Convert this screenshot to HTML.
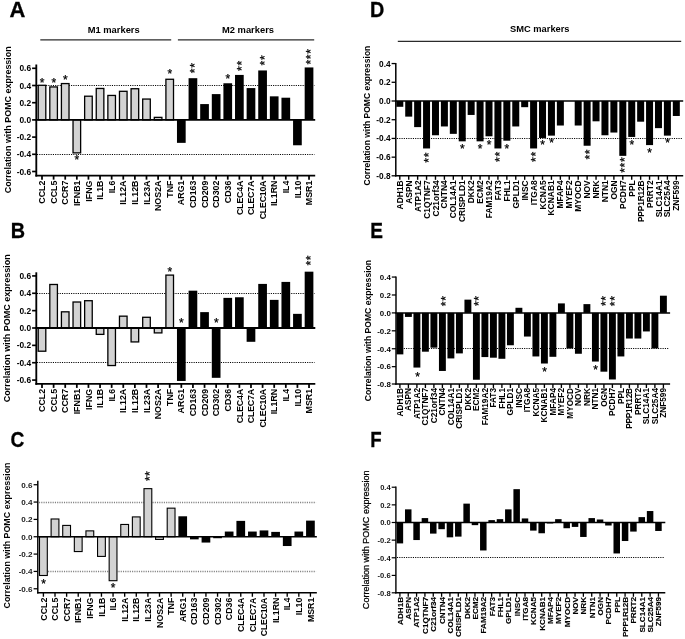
<!DOCTYPE html>
<html><head><meta charset="utf-8"><title>Figure</title>
<style>
html,body{margin:0;padding:0;background:#fff;}
body{width:685px;height:639px;overflow:hidden;}
svg{display:block;will-change:transform;}
text{font-family:"Liberation Sans",sans-serif;fill:#000;}
</style></head><body>
<svg width="685" height="639" viewBox="0 0 685 639">

<line x1="37.00" y1="85.50" x2="314.40" y2="85.50" stroke="#000" stroke-width="1.1" stroke-dasharray="1.1 1.17" stroke-opacity="1"/>
<line x1="37.00" y1="154.50" x2="314.40" y2="154.50" stroke="#000" stroke-width="1.1" stroke-dasharray="1.1 1.17" stroke-opacity="1"/>
<rect x="38.20" y="85.29" width="7.60" height="34.61" fill="#d3d3d3" stroke="#000" stroke-width="1.3"/>
<rect x="49.81" y="86.93" width="7.60" height="32.97" fill="#d3d3d3" stroke="#000" stroke-width="1.3"/>
<rect x="61.42" y="83.57" width="7.60" height="36.33" fill="#d3d3d3" stroke="#000" stroke-width="1.3"/>
<rect x="73.03" y="119.90" width="7.60" height="32.97" fill="#d3d3d3" stroke="#000" stroke-width="1.3"/>
<rect x="84.64" y="96.21" width="7.60" height="23.69" fill="#d3d3d3" stroke="#000" stroke-width="1.3"/>
<rect x="96.25" y="88.47" width="7.60" height="31.43" fill="#d3d3d3" stroke="#000" stroke-width="1.3"/>
<rect x="107.86" y="95.44" width="7.60" height="24.46" fill="#d3d3d3" stroke="#000" stroke-width="1.3"/>
<rect x="119.47" y="91.31" width="7.60" height="28.59" fill="#d3d3d3" stroke="#000" stroke-width="1.3"/>
<rect x="131.08" y="88.73" width="7.60" height="31.17" fill="#d3d3d3" stroke="#000" stroke-width="1.3"/>
<rect x="142.69" y="99.05" width="7.60" height="20.85" fill="#d3d3d3" stroke="#000" stroke-width="1.3"/>
<rect x="154.30" y="117.37" width="7.60" height="2.53" fill="#d3d3d3" stroke="#000" stroke-width="1.3"/>
<rect x="165.91" y="79.27" width="7.60" height="40.63" fill="#d3d3d3" stroke="#000" stroke-width="1.3"/>
<rect x="176.97" y="119.90" width="8.70" height="22.96" fill="#000"/>
<rect x="188.58" y="78.19" width="8.70" height="41.71" fill="#000"/>
<rect x="200.19" y="104.08" width="8.70" height="15.82" fill="#000"/>
<rect x="211.80" y="94.10" width="8.70" height="25.80" fill="#000"/>
<rect x="223.41" y="83.26" width="8.70" height="36.64" fill="#000"/>
<rect x="235.02" y="74.92" width="8.70" height="44.98" fill="#000"/>
<rect x="246.63" y="88.08" width="8.70" height="31.82" fill="#000"/>
<rect x="258.24" y="70.45" width="8.70" height="49.45" fill="#000"/>
<rect x="269.85" y="96.34" width="8.70" height="23.56" fill="#000"/>
<rect x="281.46" y="97.71" width="8.70" height="22.19" fill="#000"/>
<rect x="293.07" y="119.90" width="8.70" height="25.37" fill="#000"/>
<rect x="304.68" y="67.44" width="8.70" height="52.46" fill="#000"/>
<line x1="36.30" y1="64.50" x2="36.30" y2="176.58" stroke="#000" stroke-width="1.85" />
<line x1="35.38" y1="119.90" x2="315.20" y2="119.90" stroke="#000" stroke-width="1.85" />
<line x1="35.38" y1="175.65" x2="315.20" y2="175.65" stroke="#000" stroke-width="1.85" />
<line x1="32.10" y1="68.30" x2="36.30" y2="68.30" stroke="#000" stroke-width="1.6500000000000001" />
<text x="31.10" y="71.31" font-size="8.4" font-weight="bold" text-anchor="end" >0.6</text>
<line x1="32.10" y1="85.50" x2="36.30" y2="85.50" stroke="#000" stroke-width="1.6500000000000001" />
<text x="31.10" y="88.51" font-size="8.4" font-weight="bold" text-anchor="end" >0.4</text>
<line x1="32.10" y1="102.70" x2="36.30" y2="102.70" stroke="#000" stroke-width="1.6500000000000001" />
<text x="31.10" y="105.71" font-size="8.4" font-weight="bold" text-anchor="end" >0.2</text>
<line x1="32.10" y1="119.90" x2="36.30" y2="119.90" stroke="#000" stroke-width="1.6500000000000001" />
<text x="31.10" y="122.91" font-size="8.4" font-weight="bold" text-anchor="end" >0.0</text>
<line x1="32.10" y1="137.10" x2="36.30" y2="137.10" stroke="#000" stroke-width="1.6500000000000001" />
<text x="31.10" y="140.11" font-size="8.4" font-weight="bold" text-anchor="end" >-0.2</text>
<line x1="32.10" y1="154.30" x2="36.30" y2="154.30" stroke="#000" stroke-width="1.6500000000000001" />
<text x="31.10" y="157.31" font-size="8.4" font-weight="bold" text-anchor="end" >-0.4</text>
<line x1="32.10" y1="171.50" x2="36.30" y2="171.50" stroke="#000" stroke-width="1.6500000000000001" />
<text x="31.10" y="174.51" font-size="8.4" font-weight="bold" text-anchor="end" >-0.6</text>
<line x1="42.00" y1="175.65" x2="42.00" y2="179.65" stroke="#000" stroke-width="1.75" />
<text x="45.17" y="180.55" font-size="8.85" font-weight="bold" text-anchor="end" transform="rotate(-90 45.17 180.55)" >CCL2</text>
<line x1="53.61" y1="175.65" x2="53.61" y2="179.65" stroke="#000" stroke-width="1.75" />
<text x="56.78" y="180.55" font-size="8.85" font-weight="bold" text-anchor="end" transform="rotate(-90 56.78 180.55)" >CCL5</text>
<line x1="65.22" y1="175.65" x2="65.22" y2="179.65" stroke="#000" stroke-width="1.75" />
<text x="68.39" y="180.55" font-size="8.85" font-weight="bold" text-anchor="end" transform="rotate(-90 68.39 180.55)" >CCR7</text>
<line x1="76.83" y1="175.65" x2="76.83" y2="179.65" stroke="#000" stroke-width="1.75" />
<text x="80.00" y="180.55" font-size="8.85" font-weight="bold" text-anchor="end" transform="rotate(-90 80.00 180.55)" >IFNB1</text>
<line x1="88.44" y1="175.65" x2="88.44" y2="179.65" stroke="#000" stroke-width="1.75" />
<text x="91.61" y="180.55" font-size="8.85" font-weight="bold" text-anchor="end" transform="rotate(-90 91.61 180.55)" >IFNG</text>
<line x1="100.05" y1="175.65" x2="100.05" y2="179.65" stroke="#000" stroke-width="1.75" />
<text x="103.22" y="180.55" font-size="8.85" font-weight="bold" text-anchor="end" transform="rotate(-90 103.22 180.55)" >IL1B</text>
<line x1="111.66" y1="175.65" x2="111.66" y2="179.65" stroke="#000" stroke-width="1.75" />
<text x="114.83" y="180.55" font-size="8.85" font-weight="bold" text-anchor="end" transform="rotate(-90 114.83 180.55)" >IL6</text>
<line x1="123.27" y1="175.65" x2="123.27" y2="179.65" stroke="#000" stroke-width="1.75" />
<text x="126.44" y="180.55" font-size="8.85" font-weight="bold" text-anchor="end" transform="rotate(-90 126.44 180.55)" >IL12A</text>
<line x1="134.88" y1="175.65" x2="134.88" y2="179.65" stroke="#000" stroke-width="1.75" />
<text x="138.05" y="180.55" font-size="8.85" font-weight="bold" text-anchor="end" transform="rotate(-90 138.05 180.55)" >IL12B</text>
<line x1="146.49" y1="175.65" x2="146.49" y2="179.65" stroke="#000" stroke-width="1.75" />
<text x="149.66" y="180.55" font-size="8.85" font-weight="bold" text-anchor="end" transform="rotate(-90 149.66 180.55)" >IL23A</text>
<line x1="158.10" y1="175.65" x2="158.10" y2="179.65" stroke="#000" stroke-width="1.75" />
<text x="161.27" y="180.55" font-size="8.85" font-weight="bold" text-anchor="end" transform="rotate(-90 161.27 180.55)" >NOS2A</text>
<line x1="169.71" y1="175.65" x2="169.71" y2="179.65" stroke="#000" stroke-width="1.75" />
<text x="172.88" y="180.55" font-size="8.85" font-weight="bold" text-anchor="end" transform="rotate(-90 172.88 180.55)" >TNF</text>
<line x1="181.32" y1="175.65" x2="181.32" y2="179.65" stroke="#000" stroke-width="1.75" />
<text x="184.49" y="180.55" font-size="8.85" font-weight="bold" text-anchor="end" transform="rotate(-90 184.49 180.55)" >ARG1</text>
<line x1="192.93" y1="175.65" x2="192.93" y2="179.65" stroke="#000" stroke-width="1.75" />
<text x="196.10" y="180.55" font-size="8.85" font-weight="bold" text-anchor="end" transform="rotate(-90 196.10 180.55)" >CD163</text>
<line x1="204.54" y1="175.65" x2="204.54" y2="179.65" stroke="#000" stroke-width="1.75" />
<text x="207.71" y="180.55" font-size="8.85" font-weight="bold" text-anchor="end" transform="rotate(-90 207.71 180.55)" >CD209</text>
<line x1="216.15" y1="175.65" x2="216.15" y2="179.65" stroke="#000" stroke-width="1.75" />
<text x="219.32" y="180.55" font-size="8.85" font-weight="bold" text-anchor="end" transform="rotate(-90 219.32 180.55)" >CD302</text>
<line x1="227.76" y1="175.65" x2="227.76" y2="179.65" stroke="#000" stroke-width="1.75" />
<text x="230.93" y="180.55" font-size="8.85" font-weight="bold" text-anchor="end" transform="rotate(-90 230.93 180.55)" >CD36</text>
<line x1="239.37" y1="175.65" x2="239.37" y2="179.65" stroke="#000" stroke-width="1.75" />
<text x="242.54" y="180.73" font-size="8.85" font-weight="bold" text-anchor="end" transform="rotate(-90 242.54 180.73)" letter-spacing="-0.18" >CLEC4A</text>
<line x1="250.98" y1="175.65" x2="250.98" y2="179.65" stroke="#000" stroke-width="1.75" />
<text x="254.15" y="180.73" font-size="8.85" font-weight="bold" text-anchor="end" transform="rotate(-90 254.15 180.73)" letter-spacing="-0.18" >CLEC7A</text>
<line x1="262.59" y1="175.65" x2="262.59" y2="179.65" stroke="#000" stroke-width="1.75" />
<text x="265.76" y="180.82" font-size="8.85" font-weight="bold" text-anchor="end" transform="rotate(-90 265.76 180.82)" letter-spacing="-0.27" >CLEC10A</text>
<line x1="274.20" y1="175.65" x2="274.20" y2="179.65" stroke="#000" stroke-width="1.75" />
<text x="277.37" y="180.55" font-size="8.85" font-weight="bold" text-anchor="end" transform="rotate(-90 277.37 180.55)" >IL1RN</text>
<line x1="285.81" y1="175.65" x2="285.81" y2="179.65" stroke="#000" stroke-width="1.75" />
<text x="288.98" y="180.55" font-size="8.85" font-weight="bold" text-anchor="end" transform="rotate(-90 288.98 180.55)" >IL4</text>
<line x1="297.42" y1="175.65" x2="297.42" y2="179.65" stroke="#000" stroke-width="1.75" />
<text x="300.59" y="180.55" font-size="8.85" font-weight="bold" text-anchor="end" transform="rotate(-90 300.59 180.55)" >IL10</text>
<line x1="309.03" y1="175.65" x2="309.03" y2="179.65" stroke="#000" stroke-width="1.75" />
<text x="312.20" y="180.55" font-size="8.85" font-weight="bold" text-anchor="end" transform="rotate(-90 312.20 180.55)" >MSR1</text>
<text x="10.50" y="119.75" font-size="8.95" font-weight="bold" text-anchor="middle" transform="rotate(-90 10.50 119.75)" >Correlation with POMC expression</text>
<text transform="translate(9.45 16.65) scale(1.035 1)" x="0" y="0" font-size="21.2" font-weight="bold" stroke="#000" stroke-width="0.3">A</text>
<text x="39.78" y="86.68" font-size="12" font-weight="normal" text-anchor="start" stroke="#000" stroke-width="0.25">*</text>
<text x="51.39" y="86.68" font-size="12" font-weight="normal" text-anchor="start" stroke="#000" stroke-width="0.25">*</text>
<text x="63.00" y="83.78" font-size="12" font-weight="normal" text-anchor="start" stroke="#000" stroke-width="0.25">*</text>
<text x="74.61" y="163.68" font-size="12" font-weight="normal" text-anchor="start" stroke="#000" stroke-width="0.25">*</text>
<text x="167.49" y="77.88" font-size="12" font-weight="normal" text-anchor="start" stroke="#000" stroke-width="0.25">*</text>
<text x="199.36" y="67.82" font-size="12" font-weight="normal" text-anchor="start" transform="rotate(-90 199.36 67.82)" stroke="#000" stroke-width="0.25">*</text>
<text x="199.36" y="73.22" font-size="12" font-weight="normal" text-anchor="start" transform="rotate(-90 199.36 73.22)" stroke="#000" stroke-width="0.25">*</text>
<text x="225.54" y="82.58" font-size="12" font-weight="normal" text-anchor="start" stroke="#000" stroke-width="0.25">*</text>
<text x="245.80" y="65.52" font-size="12" font-weight="normal" text-anchor="start" transform="rotate(-90 245.80 65.52)" stroke="#000" stroke-width="0.25">*</text>
<text x="245.80" y="70.92" font-size="12" font-weight="normal" text-anchor="start" transform="rotate(-90 245.80 70.92)" stroke="#000" stroke-width="0.25">*</text>
<text x="269.02" y="60.12" font-size="12" font-weight="normal" text-anchor="start" transform="rotate(-90 269.02 60.12)" stroke="#000" stroke-width="0.25">*</text>
<text x="269.02" y="65.52" font-size="12" font-weight="normal" text-anchor="start" transform="rotate(-90 269.02 65.52)" stroke="#000" stroke-width="0.25">*</text>
<text x="315.46" y="53.72" font-size="12" font-weight="normal" text-anchor="start" transform="rotate(-90 315.46 53.72)" stroke="#000" stroke-width="0.25">*</text>
<text x="315.46" y="59.12" font-size="12" font-weight="normal" text-anchor="start" transform="rotate(-90 315.46 59.12)" stroke="#000" stroke-width="0.25">*</text>
<text x="315.46" y="64.52" font-size="12" font-weight="normal" text-anchor="start" transform="rotate(-90 315.46 64.52)" stroke="#000" stroke-width="0.25">*</text>
<line x1="37.00" y1="293.50" x2="314.50" y2="293.50" stroke="#000" stroke-width="1.1" stroke-dasharray="1.1 1.17" stroke-opacity="1"/>
<line x1="37.00" y1="362.50" x2="314.50" y2="362.50" stroke="#000" stroke-width="1.1" stroke-dasharray="1.1 1.17" stroke-opacity="1"/>
<rect x="38.20" y="328.00" width="7.60" height="23.21" fill="#d3d3d3" stroke="#000" stroke-width="1.3"/>
<rect x="49.81" y="284.48" width="7.60" height="43.52" fill="#d3d3d3" stroke="#000" stroke-width="1.3"/>
<rect x="61.42" y="311.82" width="7.60" height="16.18" fill="#d3d3d3" stroke="#000" stroke-width="1.3"/>
<rect x="73.03" y="302.01" width="7.60" height="25.99" fill="#d3d3d3" stroke="#000" stroke-width="1.3"/>
<rect x="84.64" y="300.71" width="7.60" height="27.29" fill="#d3d3d3" stroke="#000" stroke-width="1.3"/>
<rect x="96.25" y="328.00" width="7.60" height="6.37" fill="#d3d3d3" stroke="#000" stroke-width="1.3"/>
<rect x="107.86" y="328.00" width="7.60" height="37.53" fill="#d3d3d3" stroke="#000" stroke-width="1.3"/>
<rect x="119.47" y="316.16" width="7.60" height="11.84" fill="#d3d3d3" stroke="#000" stroke-width="1.3"/>
<rect x="131.08" y="328.00" width="7.60" height="13.92" fill="#d3d3d3" stroke="#000" stroke-width="1.3"/>
<rect x="142.69" y="317.29" width="7.60" height="10.71" fill="#d3d3d3" stroke="#000" stroke-width="1.3"/>
<rect x="154.30" y="328.00" width="7.60" height="4.90" fill="#d3d3d3" stroke="#000" stroke-width="1.3"/>
<rect x="165.91" y="275.10" width="7.60" height="52.90" fill="#d3d3d3" stroke="#000" stroke-width="1.3"/>
<rect x="176.97" y="328.00" width="8.70" height="52.95" fill="#000"/>
<rect x="188.58" y="290.68" width="8.70" height="37.32" fill="#000"/>
<rect x="200.19" y="312.12" width="8.70" height="15.88" fill="#000"/>
<rect x="211.80" y="328.00" width="8.70" height="49.82" fill="#000"/>
<rect x="223.41" y="297.88" width="8.70" height="30.12" fill="#000"/>
<rect x="235.02" y="297.27" width="8.70" height="30.73" fill="#000"/>
<rect x="246.63" y="328.00" width="8.70" height="13.80" fill="#000"/>
<rect x="258.24" y="283.91" width="8.70" height="44.09" fill="#000"/>
<rect x="269.85" y="299.88" width="8.70" height="28.12" fill="#000"/>
<rect x="281.46" y="281.91" width="8.70" height="46.09" fill="#000"/>
<rect x="293.07" y="313.85" width="8.70" height="14.15" fill="#000"/>
<rect x="304.68" y="271.67" width="8.70" height="56.33" fill="#000"/>
<line x1="36.30" y1="272.30" x2="36.30" y2="384.82" stroke="#000" stroke-width="1.85" />
<line x1="35.38" y1="328.00" x2="315.30" y2="328.00" stroke="#000" stroke-width="1.85" />
<line x1="35.38" y1="383.90" x2="315.30" y2="383.90" stroke="#000" stroke-width="1.85" />
<line x1="32.10" y1="275.92" x2="36.30" y2="275.92" stroke="#000" stroke-width="1.6500000000000001" />
<text x="31.10" y="278.93" font-size="8.4" font-weight="bold" text-anchor="end" >0.6</text>
<line x1="32.10" y1="293.28" x2="36.30" y2="293.28" stroke="#000" stroke-width="1.6500000000000001" />
<text x="31.10" y="296.29" font-size="8.4" font-weight="bold" text-anchor="end" >0.4</text>
<line x1="32.10" y1="310.64" x2="36.30" y2="310.64" stroke="#000" stroke-width="1.6500000000000001" />
<text x="31.10" y="313.65" font-size="8.4" font-weight="bold" text-anchor="end" >0.2</text>
<line x1="32.10" y1="328.00" x2="36.30" y2="328.00" stroke="#000" stroke-width="1.6500000000000001" />
<text x="31.10" y="331.01" font-size="8.4" font-weight="bold" text-anchor="end" >0.0</text>
<line x1="32.10" y1="345.36" x2="36.30" y2="345.36" stroke="#000" stroke-width="1.6500000000000001" />
<text x="31.10" y="348.37" font-size="8.4" font-weight="bold" text-anchor="end" >-0.2</text>
<line x1="32.10" y1="362.72" x2="36.30" y2="362.72" stroke="#000" stroke-width="1.6500000000000001" />
<text x="31.10" y="365.73" font-size="8.4" font-weight="bold" text-anchor="end" >-0.4</text>
<line x1="32.10" y1="380.08" x2="36.30" y2="380.08" stroke="#000" stroke-width="1.6500000000000001" />
<text x="31.10" y="383.09" font-size="8.4" font-weight="bold" text-anchor="end" >-0.6</text>
<line x1="42.00" y1="383.90" x2="42.00" y2="387.90" stroke="#000" stroke-width="1.75" />
<text x="45.17" y="388.80" font-size="8.85" font-weight="bold" text-anchor="end" transform="rotate(-90 45.17 388.80)" >CCL2</text>
<line x1="53.61" y1="383.90" x2="53.61" y2="387.90" stroke="#000" stroke-width="1.75" />
<text x="56.78" y="388.80" font-size="8.85" font-weight="bold" text-anchor="end" transform="rotate(-90 56.78 388.80)" >CCL5</text>
<line x1="65.22" y1="383.90" x2="65.22" y2="387.90" stroke="#000" stroke-width="1.75" />
<text x="68.39" y="388.80" font-size="8.85" font-weight="bold" text-anchor="end" transform="rotate(-90 68.39 388.80)" >CCR7</text>
<line x1="76.83" y1="383.90" x2="76.83" y2="387.90" stroke="#000" stroke-width="1.75" />
<text x="80.00" y="388.80" font-size="8.85" font-weight="bold" text-anchor="end" transform="rotate(-90 80.00 388.80)" >IFNB1</text>
<line x1="88.44" y1="383.90" x2="88.44" y2="387.90" stroke="#000" stroke-width="1.75" />
<text x="91.61" y="388.80" font-size="8.85" font-weight="bold" text-anchor="end" transform="rotate(-90 91.61 388.80)" >IFNG</text>
<line x1="100.05" y1="383.90" x2="100.05" y2="387.90" stroke="#000" stroke-width="1.75" />
<text x="103.22" y="388.80" font-size="8.85" font-weight="bold" text-anchor="end" transform="rotate(-90 103.22 388.80)" >IL1B</text>
<line x1="111.66" y1="383.90" x2="111.66" y2="387.90" stroke="#000" stroke-width="1.75" />
<text x="114.83" y="388.80" font-size="8.85" font-weight="bold" text-anchor="end" transform="rotate(-90 114.83 388.80)" >IL6</text>
<line x1="123.27" y1="383.90" x2="123.27" y2="387.90" stroke="#000" stroke-width="1.75" />
<text x="126.44" y="388.80" font-size="8.85" font-weight="bold" text-anchor="end" transform="rotate(-90 126.44 388.80)" >IL12A</text>
<line x1="134.88" y1="383.90" x2="134.88" y2="387.90" stroke="#000" stroke-width="1.75" />
<text x="138.05" y="388.80" font-size="8.85" font-weight="bold" text-anchor="end" transform="rotate(-90 138.05 388.80)" >IL12B</text>
<line x1="146.49" y1="383.90" x2="146.49" y2="387.90" stroke="#000" stroke-width="1.75" />
<text x="149.66" y="388.80" font-size="8.85" font-weight="bold" text-anchor="end" transform="rotate(-90 149.66 388.80)" >IL23A</text>
<line x1="158.10" y1="383.90" x2="158.10" y2="387.90" stroke="#000" stroke-width="1.75" />
<text x="161.27" y="388.80" font-size="8.85" font-weight="bold" text-anchor="end" transform="rotate(-90 161.27 388.80)" >NOS2A</text>
<line x1="169.71" y1="383.90" x2="169.71" y2="387.90" stroke="#000" stroke-width="1.75" />
<text x="172.88" y="388.80" font-size="8.85" font-weight="bold" text-anchor="end" transform="rotate(-90 172.88 388.80)" >TNF</text>
<line x1="181.32" y1="383.90" x2="181.32" y2="387.90" stroke="#000" stroke-width="1.75" />
<text x="184.49" y="388.80" font-size="8.85" font-weight="bold" text-anchor="end" transform="rotate(-90 184.49 388.80)" >ARG1</text>
<line x1="192.93" y1="383.90" x2="192.93" y2="387.90" stroke="#000" stroke-width="1.75" />
<text x="196.10" y="388.80" font-size="8.85" font-weight="bold" text-anchor="end" transform="rotate(-90 196.10 388.80)" >CD163</text>
<line x1="204.54" y1="383.90" x2="204.54" y2="387.90" stroke="#000" stroke-width="1.75" />
<text x="207.71" y="388.80" font-size="8.85" font-weight="bold" text-anchor="end" transform="rotate(-90 207.71 388.80)" >CD209</text>
<line x1="216.15" y1="383.90" x2="216.15" y2="387.90" stroke="#000" stroke-width="1.75" />
<text x="219.32" y="388.80" font-size="8.85" font-weight="bold" text-anchor="end" transform="rotate(-90 219.32 388.80)" >CD302</text>
<line x1="227.76" y1="383.90" x2="227.76" y2="387.90" stroke="#000" stroke-width="1.75" />
<text x="230.93" y="388.80" font-size="8.85" font-weight="bold" text-anchor="end" transform="rotate(-90 230.93 388.80)" >CD36</text>
<line x1="239.37" y1="383.90" x2="239.37" y2="387.90" stroke="#000" stroke-width="1.75" />
<text x="242.54" y="388.98" font-size="8.85" font-weight="bold" text-anchor="end" transform="rotate(-90 242.54 388.98)" letter-spacing="-0.18" >CLEC4A</text>
<line x1="250.98" y1="383.90" x2="250.98" y2="387.90" stroke="#000" stroke-width="1.75" />
<text x="254.15" y="388.98" font-size="8.85" font-weight="bold" text-anchor="end" transform="rotate(-90 254.15 388.98)" letter-spacing="-0.18" >CLEC7A</text>
<line x1="262.59" y1="383.90" x2="262.59" y2="387.90" stroke="#000" stroke-width="1.75" />
<text x="265.76" y="389.07" font-size="8.85" font-weight="bold" text-anchor="end" transform="rotate(-90 265.76 389.07)" letter-spacing="-0.27" >CLEC10A</text>
<line x1="274.20" y1="383.90" x2="274.20" y2="387.90" stroke="#000" stroke-width="1.75" />
<text x="277.37" y="388.80" font-size="8.85" font-weight="bold" text-anchor="end" transform="rotate(-90 277.37 388.80)" >IL1RN</text>
<line x1="285.81" y1="383.90" x2="285.81" y2="387.90" stroke="#000" stroke-width="1.75" />
<text x="288.98" y="388.80" font-size="8.85" font-weight="bold" text-anchor="end" transform="rotate(-90 288.98 388.80)" >IL4</text>
<line x1="297.42" y1="383.90" x2="297.42" y2="387.90" stroke="#000" stroke-width="1.75" />
<text x="300.59" y="388.80" font-size="8.85" font-weight="bold" text-anchor="end" transform="rotate(-90 300.59 388.80)" >IL10</text>
<line x1="309.03" y1="383.90" x2="309.03" y2="387.90" stroke="#000" stroke-width="1.75" />
<text x="312.20" y="388.80" font-size="8.85" font-weight="bold" text-anchor="end" transform="rotate(-90 312.20 388.80)" >MSR1</text>
<text x="9.80" y="328.25" font-size="9.0" font-weight="bold" text-anchor="middle" transform="rotate(-90 9.80 328.25)" >Correlation with POMC expression</text>
<text transform="translate(10.65 238.30) scale(0.93 1)" x="0" y="0" font-size="21.3" font-weight="bold" stroke="#000" stroke-width="0.3">B</text>
<text x="167.49" y="275.88" font-size="12" font-weight="normal" text-anchor="start" stroke="#000" stroke-width="0.25">*</text>
<text x="179.10" y="326.98" font-size="12" font-weight="normal" text-anchor="start" stroke="#000" stroke-width="0.25">*</text>
<text x="213.93" y="326.98" font-size="12" font-weight="normal" text-anchor="start" stroke="#000" stroke-width="0.25">*</text>
<text x="315.46" y="260.12" font-size="12" font-weight="normal" text-anchor="start" transform="rotate(-90 315.46 260.12)" stroke="#000" stroke-width="0.25">*</text>
<text x="315.46" y="265.52" font-size="12" font-weight="normal" text-anchor="start" transform="rotate(-90 315.46 265.52)" stroke="#000" stroke-width="0.25">*</text>
<line x1="39.00" y1="502.50" x2="316.05" y2="502.50" stroke="#000" stroke-width="1.3" stroke-dasharray="1.1 1.17" stroke-opacity="0.5"/>
<line x1="39.00" y1="571.50" x2="316.05" y2="571.50" stroke="#000" stroke-width="1.3" stroke-dasharray="1.1 1.17" stroke-opacity="0.5"/>
<rect x="39.50" y="536.75" width="7.80" height="38.74" fill="#d3d3d3" stroke="#000" stroke-width="1.1"/>
<rect x="51.11" y="518.99" width="7.80" height="17.76" fill="#d3d3d3" stroke="#000" stroke-width="1.1"/>
<rect x="62.72" y="525.41" width="7.80" height="11.34" fill="#d3d3d3" stroke="#000" stroke-width="1.1"/>
<rect x="74.33" y="536.75" width="7.80" height="14.81" fill="#d3d3d3" stroke="#000" stroke-width="1.1"/>
<rect x="85.94" y="530.87" width="7.80" height="5.88" fill="#d3d3d3" stroke="#000" stroke-width="1.1"/>
<rect x="97.55" y="536.75" width="7.80" height="19.66" fill="#d3d3d3" stroke="#000" stroke-width="1.1"/>
<rect x="109.16" y="536.75" width="7.80" height="43.94" fill="#d3d3d3" stroke="#000" stroke-width="1.1"/>
<rect x="120.77" y="524.46" width="7.80" height="12.29" fill="#d3d3d3" stroke="#000" stroke-width="1.1"/>
<rect x="132.38" y="516.91" width="7.80" height="19.84" fill="#d3d3d3" stroke="#000" stroke-width="1.1"/>
<rect x="143.99" y="488.65" width="7.80" height="48.10" fill="#d3d3d3" stroke="#000" stroke-width="1.1"/>
<rect x="155.60" y="536.75" width="7.80" height="2.67" fill="#d3d3d3" stroke="#000" stroke-width="1.1"/>
<rect x="167.21" y="508.16" width="7.80" height="28.59" fill="#d3d3d3" stroke="#000" stroke-width="1.1"/>
<rect x="178.37" y="516.29" width="8.70" height="20.46" fill="#000"/>
<rect x="189.98" y="536.75" width="8.70" height="2.60" fill="#000"/>
<rect x="201.59" y="536.75" width="8.70" height="5.81" fill="#000"/>
<rect x="213.20" y="536.75" width="8.70" height="1.47" fill="#000"/>
<rect x="224.81" y="531.55" width="8.70" height="5.20" fill="#000"/>
<rect x="236.42" y="520.88" width="8.70" height="15.87" fill="#000"/>
<rect x="248.03" y="531.55" width="8.70" height="5.20" fill="#000"/>
<rect x="259.64" y="530.42" width="8.70" height="6.33" fill="#000"/>
<rect x="271.25" y="531.89" width="8.70" height="4.86" fill="#000"/>
<rect x="282.86" y="536.75" width="8.70" height="9.28" fill="#000"/>
<rect x="294.47" y="531.55" width="8.70" height="5.20" fill="#000"/>
<rect x="306.08" y="520.62" width="8.70" height="16.13" fill="#000"/>
<line x1="37.80" y1="480.70" x2="37.80" y2="593.48" stroke="#000" stroke-width="1.45" />
<line x1="37.07" y1="536.75" x2="316.85" y2="536.75" stroke="#000" stroke-width="1.45" />
<line x1="37.07" y1="592.75" x2="316.85" y2="592.75" stroke="#000" stroke-width="1.45" />
<line x1="33.60" y1="484.73" x2="37.80" y2="484.73" stroke="#000" stroke-width="1.25" />
<text x="32.60" y="487.63" font-size="8.1" font-weight="bold" text-anchor="end" fill-opacity="0.9">0.6</text>
<line x1="33.60" y1="502.07" x2="37.80" y2="502.07" stroke="#000" stroke-width="1.25" />
<text x="32.60" y="504.97" font-size="8.1" font-weight="bold" text-anchor="end" fill-opacity="0.9">0.4</text>
<line x1="33.60" y1="519.41" x2="37.80" y2="519.41" stroke="#000" stroke-width="1.25" />
<text x="32.60" y="522.31" font-size="8.1" font-weight="bold" text-anchor="end" fill-opacity="0.9">0.2</text>
<line x1="33.60" y1="536.75" x2="37.80" y2="536.75" stroke="#000" stroke-width="1.25" />
<text x="32.60" y="539.65" font-size="8.1" font-weight="bold" text-anchor="end" fill-opacity="0.9">0.0</text>
<line x1="33.60" y1="554.09" x2="37.80" y2="554.09" stroke="#000" stroke-width="1.25" />
<text x="32.60" y="556.99" font-size="8.1" font-weight="bold" text-anchor="end" fill-opacity="0.9">-0.2</text>
<line x1="33.60" y1="571.43" x2="37.80" y2="571.43" stroke="#000" stroke-width="1.25" />
<text x="32.60" y="574.33" font-size="8.1" font-weight="bold" text-anchor="end" fill-opacity="0.9">-0.4</text>
<line x1="33.60" y1="588.77" x2="37.80" y2="588.77" stroke="#000" stroke-width="1.25" />
<text x="32.60" y="591.67" font-size="8.1" font-weight="bold" text-anchor="end" fill-opacity="0.9">-0.6</text>
<line x1="43.40" y1="592.75" x2="43.40" y2="596.75" stroke="#000" stroke-width="1.3499999999999999" />
<text x="46.55" y="597.65" font-size="8.8" font-weight="bold" text-anchor="end" transform="rotate(-90 46.55 597.65)" >CCL2</text>
<line x1="55.01" y1="592.75" x2="55.01" y2="596.75" stroke="#000" stroke-width="1.3499999999999999" />
<text x="58.16" y="597.65" font-size="8.8" font-weight="bold" text-anchor="end" transform="rotate(-90 58.16 597.65)" >CCL5</text>
<line x1="66.62" y1="592.75" x2="66.62" y2="596.75" stroke="#000" stroke-width="1.3499999999999999" />
<text x="69.77" y="597.65" font-size="8.8" font-weight="bold" text-anchor="end" transform="rotate(-90 69.77 597.65)" >CCR7</text>
<line x1="78.23" y1="592.75" x2="78.23" y2="596.75" stroke="#000" stroke-width="1.3499999999999999" />
<text x="81.38" y="597.65" font-size="8.8" font-weight="bold" text-anchor="end" transform="rotate(-90 81.38 597.65)" >IFNB1</text>
<line x1="89.84" y1="592.75" x2="89.84" y2="596.75" stroke="#000" stroke-width="1.3499999999999999" />
<text x="92.99" y="597.65" font-size="8.8" font-weight="bold" text-anchor="end" transform="rotate(-90 92.99 597.65)" >IFNG</text>
<line x1="101.45" y1="592.75" x2="101.45" y2="596.75" stroke="#000" stroke-width="1.3499999999999999" />
<text x="104.60" y="597.65" font-size="8.8" font-weight="bold" text-anchor="end" transform="rotate(-90 104.60 597.65)" >IL1B</text>
<line x1="113.06" y1="592.75" x2="113.06" y2="596.75" stroke="#000" stroke-width="1.3499999999999999" />
<text x="116.21" y="597.65" font-size="8.8" font-weight="bold" text-anchor="end" transform="rotate(-90 116.21 597.65)" >IL6</text>
<line x1="124.67" y1="592.75" x2="124.67" y2="596.75" stroke="#000" stroke-width="1.3499999999999999" />
<text x="127.82" y="597.65" font-size="8.8" font-weight="bold" text-anchor="end" transform="rotate(-90 127.82 597.65)" >IL12A</text>
<line x1="136.28" y1="592.75" x2="136.28" y2="596.75" stroke="#000" stroke-width="1.3499999999999999" />
<text x="139.43" y="597.65" font-size="8.8" font-weight="bold" text-anchor="end" transform="rotate(-90 139.43 597.65)" >IL12B</text>
<line x1="147.89" y1="592.75" x2="147.89" y2="596.75" stroke="#000" stroke-width="1.3499999999999999" />
<text x="151.04" y="597.65" font-size="8.8" font-weight="bold" text-anchor="end" transform="rotate(-90 151.04 597.65)" >IL23A</text>
<line x1="159.50" y1="592.75" x2="159.50" y2="596.75" stroke="#000" stroke-width="1.3499999999999999" />
<text x="162.65" y="597.65" font-size="8.8" font-weight="bold" text-anchor="end" transform="rotate(-90 162.65 597.65)" >NOS2A</text>
<line x1="171.11" y1="592.75" x2="171.11" y2="596.75" stroke="#000" stroke-width="1.3499999999999999" />
<text x="174.26" y="597.65" font-size="8.8" font-weight="bold" text-anchor="end" transform="rotate(-90 174.26 597.65)" >TNF</text>
<line x1="182.72" y1="592.75" x2="182.72" y2="596.75" stroke="#000" stroke-width="1.3499999999999999" />
<text x="185.87" y="597.65" font-size="8.8" font-weight="bold" text-anchor="end" transform="rotate(-90 185.87 597.65)" >ARG1</text>
<line x1="194.33" y1="592.75" x2="194.33" y2="596.75" stroke="#000" stroke-width="1.3499999999999999" />
<text x="197.48" y="597.65" font-size="8.8" font-weight="bold" text-anchor="end" transform="rotate(-90 197.48 597.65)" >CD163</text>
<line x1="205.94" y1="592.75" x2="205.94" y2="596.75" stroke="#000" stroke-width="1.3499999999999999" />
<text x="209.09" y="597.65" font-size="8.8" font-weight="bold" text-anchor="end" transform="rotate(-90 209.09 597.65)" >CD209</text>
<line x1="217.55" y1="592.75" x2="217.55" y2="596.75" stroke="#000" stroke-width="1.3499999999999999" />
<text x="220.70" y="597.65" font-size="8.8" font-weight="bold" text-anchor="end" transform="rotate(-90 220.70 597.65)" >CD302</text>
<line x1="229.16" y1="592.75" x2="229.16" y2="596.75" stroke="#000" stroke-width="1.3499999999999999" />
<text x="232.31" y="597.65" font-size="8.8" font-weight="bold" text-anchor="end" transform="rotate(-90 232.31 597.65)" >CD36</text>
<line x1="240.77" y1="592.75" x2="240.77" y2="596.75" stroke="#000" stroke-width="1.3499999999999999" />
<text x="243.92" y="597.83" font-size="8.8" font-weight="bold" text-anchor="end" transform="rotate(-90 243.92 597.83)" letter-spacing="-0.18" >CLEC4A</text>
<line x1="252.38" y1="592.75" x2="252.38" y2="596.75" stroke="#000" stroke-width="1.3499999999999999" />
<text x="255.53" y="597.83" font-size="8.8" font-weight="bold" text-anchor="end" transform="rotate(-90 255.53 597.83)" letter-spacing="-0.18" >CLEC7A</text>
<line x1="263.99" y1="592.75" x2="263.99" y2="596.75" stroke="#000" stroke-width="1.3499999999999999" />
<text x="267.14" y="597.92" font-size="8.8" font-weight="bold" text-anchor="end" transform="rotate(-90 267.14 597.92)" letter-spacing="-0.27" >CLEC10A</text>
<line x1="275.60" y1="592.75" x2="275.60" y2="596.75" stroke="#000" stroke-width="1.3499999999999999" />
<text x="278.75" y="597.65" font-size="8.8" font-weight="bold" text-anchor="end" transform="rotate(-90 278.75 597.65)" >IL1RN</text>
<line x1="287.21" y1="592.75" x2="287.21" y2="596.75" stroke="#000" stroke-width="1.3499999999999999" />
<text x="290.36" y="597.65" font-size="8.8" font-weight="bold" text-anchor="end" transform="rotate(-90 290.36 597.65)" >IL4</text>
<line x1="298.82" y1="592.75" x2="298.82" y2="596.75" stroke="#000" stroke-width="1.3499999999999999" />
<text x="301.97" y="597.65" font-size="8.8" font-weight="bold" text-anchor="end" transform="rotate(-90 301.97 597.65)" >IL10</text>
<line x1="310.43" y1="592.75" x2="310.43" y2="596.75" stroke="#000" stroke-width="1.3499999999999999" />
<text x="313.58" y="597.65" font-size="8.8" font-weight="bold" text-anchor="end" transform="rotate(-90 313.58 597.65)" >MSR1</text>
<text x="10.40" y="535.50" font-size="8.9" font-weight="bold" text-anchor="middle" transform="rotate(-90 10.40 535.50)" >Correlation with POMC expression</text>
<text transform="translate(10.54 447.10) scale(0.9 1)" x="0" y="0" font-size="21.3" font-weight="bold" stroke="#000" stroke-width="0.3">C</text>
<text x="41.18" y="588.28" font-size="12" font-weight="normal" text-anchor="start" stroke="#000" stroke-width="0.25">*</text>
<text x="110.84" y="591.98" font-size="12" font-weight="normal" text-anchor="start" stroke="#000" stroke-width="0.25">*</text>
<text x="154.32" y="475.87" font-size="12" font-weight="normal" text-anchor="start" transform="rotate(-90 154.32 475.87)" stroke="#000" stroke-width="0.25">*</text>
<text x="154.32" y="480.97" font-size="12" font-weight="normal" text-anchor="start" transform="rotate(-90 154.32 480.97)" stroke="#000" stroke-width="0.25">*</text>
<line x1="397.00" y1="138.50" x2="682.40" y2="138.50" stroke="#000" stroke-width="1.1" stroke-dasharray="1.1 1.17" stroke-opacity="1"/>
<rect x="396.30" y="101.00" width="7.00" height="5.80" fill="#000"/>
<rect x="405.22" y="101.00" width="7.00" height="15.63" fill="#000"/>
<rect x="414.14" y="101.00" width="7.00" height="26.11" fill="#000"/>
<rect x="423.06" y="101.00" width="7.00" height="47.46" fill="#000"/>
<rect x="431.98" y="101.00" width="7.00" height="34.26" fill="#000"/>
<rect x="440.90" y="101.00" width="7.00" height="25.46" fill="#000"/>
<rect x="449.82" y="101.00" width="7.00" height="32.85" fill="#000"/>
<rect x="458.74" y="101.00" width="7.00" height="40.34" fill="#000"/>
<rect x="467.66" y="101.00" width="7.00" height="13.95" fill="#000"/>
<rect x="476.58" y="101.00" width="7.00" height="40.34" fill="#000"/>
<rect x="485.50" y="101.00" width="7.00" height="35.29" fill="#000"/>
<rect x="494.42" y="101.00" width="7.00" height="47.46" fill="#000"/>
<rect x="503.34" y="101.00" width="7.00" height="39.69" fill="#000"/>
<rect x="512.26" y="101.00" width="7.00" height="25.46" fill="#000"/>
<rect x="521.18" y="101.00" width="7.00" height="6.18" fill="#000"/>
<rect x="530.10" y="101.00" width="7.00" height="47.46" fill="#000"/>
<rect x="539.02" y="101.00" width="7.00" height="36.97" fill="#000"/>
<rect x="547.94" y="101.00" width="7.00" height="34.63" fill="#000"/>
<rect x="556.86" y="101.00" width="7.00" height="24.52" fill="#000"/>
<rect x="574.70" y="101.00" width="7.00" height="24.52" fill="#000"/>
<rect x="583.62" y="101.00" width="7.00" height="44.74" fill="#000"/>
<rect x="592.54" y="101.00" width="7.00" height="20.31" fill="#000"/>
<rect x="601.46" y="101.00" width="7.00" height="34.26" fill="#000"/>
<rect x="610.38" y="101.00" width="7.00" height="31.54" fill="#000"/>
<rect x="619.30" y="101.00" width="7.00" height="54.85" fill="#000"/>
<rect x="628.22" y="101.00" width="7.00" height="35.94" fill="#000"/>
<rect x="637.14" y="101.00" width="7.00" height="20.69" fill="#000"/>
<rect x="646.06" y="101.00" width="7.00" height="44.09" fill="#000"/>
<rect x="654.98" y="101.00" width="7.00" height="27.14" fill="#000"/>
<rect x="663.90" y="101.00" width="7.00" height="34.63" fill="#000"/>
<rect x="672.82" y="101.00" width="7.00" height="14.98" fill="#000"/>
<line x1="395.80" y1="62.90" x2="395.80" y2="176.55" stroke="#000" stroke-width="1.5" />
<line x1="395.05" y1="101.00" x2="683.20" y2="101.00" stroke="#000" stroke-width="1.5" />
<line x1="395.05" y1="175.80" x2="683.20" y2="175.80" stroke="#000" stroke-width="1.5" />
<line x1="391.60" y1="63.56" x2="395.80" y2="63.56" stroke="#000" stroke-width="1.3" />
<text x="390.60" y="66.53" font-size="8.3" font-weight="bold" text-anchor="end" >0.4</text>
<line x1="391.60" y1="82.28" x2="395.80" y2="82.28" stroke="#000" stroke-width="1.3" />
<text x="390.60" y="85.25" font-size="8.3" font-weight="bold" text-anchor="end" >0.2</text>
<line x1="391.60" y1="101.00" x2="395.80" y2="101.00" stroke="#000" stroke-width="1.3" />
<text x="390.60" y="103.97" font-size="8.3" font-weight="bold" text-anchor="end" >0.0</text>
<line x1="391.60" y1="119.72" x2="395.80" y2="119.72" stroke="#000" stroke-width="1.3" />
<text x="390.60" y="122.69" font-size="8.3" font-weight="bold" text-anchor="end" >-0.2</text>
<line x1="391.60" y1="138.44" x2="395.80" y2="138.44" stroke="#000" stroke-width="1.3" />
<text x="390.60" y="141.41" font-size="8.3" font-weight="bold" text-anchor="end" >-0.4</text>
<line x1="391.60" y1="157.16" x2="395.80" y2="157.16" stroke="#000" stroke-width="1.3" />
<text x="390.60" y="160.13" font-size="8.3" font-weight="bold" text-anchor="end" >-0.6</text>
<line x1="391.60" y1="175.80" x2="395.80" y2="175.80" stroke="#000" stroke-width="1.3" />
<text x="390.60" y="178.77" font-size="8.3" font-weight="bold" text-anchor="end" >-0.8</text>
<line x1="399.80" y1="175.80" x2="399.80" y2="179.80" stroke="#000" stroke-width="1.4" />
<text x="402.83" y="180.30" font-size="8.45" font-weight="bold" text-anchor="end" transform="rotate(-90 402.83 180.30)" >ADH1B</text>
<line x1="408.72" y1="175.80" x2="408.72" y2="179.80" stroke="#000" stroke-width="1.4" />
<text x="411.75" y="180.30" font-size="8.45" font-weight="bold" text-anchor="end" transform="rotate(-90 411.75 180.30)" >ASPN</text>
<line x1="417.64" y1="175.80" x2="417.64" y2="179.80" stroke="#000" stroke-width="1.4" />
<text x="420.67" y="180.30" font-size="8.45" font-weight="bold" text-anchor="end" transform="rotate(-90 420.67 180.30)" >ATP1A2</text>
<line x1="426.56" y1="175.80" x2="426.56" y2="179.80" stroke="#000" stroke-width="1.4" />
<text x="429.59" y="180.30" font-size="8.45" font-weight="bold" text-anchor="end" transform="rotate(-90 429.59 180.30)" >C1QTNF7</text>
<line x1="435.48" y1="175.80" x2="435.48" y2="179.80" stroke="#000" stroke-width="1.4" />
<text x="438.51" y="180.30" font-size="8.45" font-weight="bold" text-anchor="end" transform="rotate(-90 438.51 180.30)" >C21orf34</text>
<line x1="444.40" y1="175.80" x2="444.40" y2="179.80" stroke="#000" stroke-width="1.4" />
<text x="447.43" y="180.30" font-size="8.45" font-weight="bold" text-anchor="end" transform="rotate(-90 447.43 180.30)" >CNTN4</text>
<line x1="453.32" y1="175.80" x2="453.32" y2="179.80" stroke="#000" stroke-width="1.4" />
<text x="456.35" y="180.30" font-size="8.45" font-weight="bold" text-anchor="end" transform="rotate(-90 456.35 180.30)" >COL14A1</text>
<line x1="462.24" y1="175.80" x2="462.24" y2="179.80" stroke="#000" stroke-width="1.4" />
<text x="465.27" y="180.30" font-size="8.45" font-weight="bold" text-anchor="end" transform="rotate(-90 465.27 180.30)" >CRISPLD1</text>
<line x1="471.16" y1="175.80" x2="471.16" y2="179.80" stroke="#000" stroke-width="1.4" />
<text x="474.19" y="180.30" font-size="8.45" font-weight="bold" text-anchor="end" transform="rotate(-90 474.19 180.30)" >DKK2</text>
<line x1="480.08" y1="175.80" x2="480.08" y2="179.80" stroke="#000" stroke-width="1.4" />
<text x="483.11" y="180.30" font-size="8.45" font-weight="bold" text-anchor="end" transform="rotate(-90 483.11 180.30)" >ECM2</text>
<line x1="489.00" y1="175.80" x2="489.00" y2="179.80" stroke="#000" stroke-width="1.4" />
<text x="492.03" y="180.30" font-size="8.45" font-weight="bold" text-anchor="end" transform="rotate(-90 492.03 180.30)" >FAM19A2</text>
<line x1="497.92" y1="175.80" x2="497.92" y2="179.80" stroke="#000" stroke-width="1.4" />
<text x="500.95" y="180.30" font-size="8.45" font-weight="bold" text-anchor="end" transform="rotate(-90 500.95 180.30)" >FAT3</text>
<line x1="506.84" y1="175.80" x2="506.84" y2="179.80" stroke="#000" stroke-width="1.4" />
<text x="509.87" y="180.30" font-size="8.45" font-weight="bold" text-anchor="end" transform="rotate(-90 509.87 180.30)" >FHL1</text>
<line x1="515.76" y1="175.80" x2="515.76" y2="179.80" stroke="#000" stroke-width="1.4" />
<text x="518.79" y="180.30" font-size="8.45" font-weight="bold" text-anchor="end" transform="rotate(-90 518.79 180.30)" >GPLD1</text>
<line x1="524.68" y1="175.80" x2="524.68" y2="179.80" stroke="#000" stroke-width="1.4" />
<text x="527.71" y="180.30" font-size="8.45" font-weight="bold" text-anchor="end" transform="rotate(-90 527.71 180.30)" >INSC</text>
<line x1="533.60" y1="175.80" x2="533.60" y2="179.80" stroke="#000" stroke-width="1.4" />
<text x="536.63" y="180.30" font-size="8.45" font-weight="bold" text-anchor="end" transform="rotate(-90 536.63 180.30)" >ITGA8</text>
<line x1="542.52" y1="175.80" x2="542.52" y2="179.80" stroke="#000" stroke-width="1.4" />
<text x="545.55" y="180.30" font-size="8.45" font-weight="bold" text-anchor="end" transform="rotate(-90 545.55 180.30)" >KCNA5</text>
<line x1="551.44" y1="175.80" x2="551.44" y2="179.80" stroke="#000" stroke-width="1.4" />
<text x="554.47" y="180.30" font-size="8.45" font-weight="bold" text-anchor="end" transform="rotate(-90 554.47 180.30)" >KCNAB1</text>
<line x1="560.36" y1="175.80" x2="560.36" y2="179.80" stroke="#000" stroke-width="1.4" />
<text x="563.39" y="180.30" font-size="8.45" font-weight="bold" text-anchor="end" transform="rotate(-90 563.39 180.30)" >MFAP4</text>
<line x1="569.28" y1="175.80" x2="569.28" y2="179.80" stroke="#000" stroke-width="1.4" />
<text x="572.31" y="180.30" font-size="8.45" font-weight="bold" text-anchor="end" transform="rotate(-90 572.31 180.30)" >MYEF2</text>
<line x1="578.20" y1="175.80" x2="578.20" y2="179.80" stroke="#000" stroke-width="1.4" />
<text x="581.23" y="180.30" font-size="8.45" font-weight="bold" text-anchor="end" transform="rotate(-90 581.23 180.30)" >MYOCD</text>
<line x1="587.12" y1="175.80" x2="587.12" y2="179.80" stroke="#000" stroke-width="1.4" />
<text x="590.15" y="180.30" font-size="8.45" font-weight="bold" text-anchor="end" transform="rotate(-90 590.15 180.30)" >NOV</text>
<line x1="596.04" y1="175.80" x2="596.04" y2="179.80" stroke="#000" stroke-width="1.4" />
<text x="599.07" y="180.30" font-size="8.45" font-weight="bold" text-anchor="end" transform="rotate(-90 599.07 180.30)" >NRK</text>
<line x1="604.96" y1="175.80" x2="604.96" y2="179.80" stroke="#000" stroke-width="1.4" />
<text x="607.99" y="180.30" font-size="8.45" font-weight="bold" text-anchor="end" transform="rotate(-90 607.99 180.30)" >NTN1</text>
<line x1="613.88" y1="175.80" x2="613.88" y2="179.80" stroke="#000" stroke-width="1.4" />
<text x="616.91" y="180.30" font-size="8.45" font-weight="bold" text-anchor="end" transform="rotate(-90 616.91 180.30)" >OGN</text>
<line x1="622.80" y1="175.80" x2="622.80" y2="179.80" stroke="#000" stroke-width="1.4" />
<text x="625.83" y="180.30" font-size="8.45" font-weight="bold" text-anchor="end" transform="rotate(-90 625.83 180.30)" >PCDH7</text>
<line x1="631.72" y1="175.80" x2="631.72" y2="179.80" stroke="#000" stroke-width="1.4" />
<text x="634.75" y="180.30" font-size="8.45" font-weight="bold" text-anchor="end" transform="rotate(-90 634.75 180.30)" >PPL</text>
<line x1="640.64" y1="175.80" x2="640.64" y2="179.80" stroke="#000" stroke-width="1.4" />
<text x="643.67" y="180.50" font-size="8.45" font-weight="bold" text-anchor="end" transform="rotate(-90 643.67 180.50)" letter-spacing="-0.2" >PPP1R12B</text>
<line x1="649.56" y1="175.80" x2="649.56" y2="179.80" stroke="#000" stroke-width="1.4" />
<text x="652.59" y="180.30" font-size="8.45" font-weight="bold" text-anchor="end" transform="rotate(-90 652.59 180.30)" >PRRT2</text>
<line x1="658.48" y1="175.80" x2="658.48" y2="179.80" stroke="#000" stroke-width="1.4" />
<text x="661.51" y="180.30" font-size="8.45" font-weight="bold" text-anchor="end" transform="rotate(-90 661.51 180.30)" >SLC14A1</text>
<line x1="667.40" y1="175.80" x2="667.40" y2="179.80" stroke="#000" stroke-width="1.4" />
<text x="670.43" y="180.30" font-size="8.45" font-weight="bold" text-anchor="end" transform="rotate(-90 670.43 180.30)" >SLC25A4</text>
<line x1="676.32" y1="175.80" x2="676.32" y2="179.80" stroke="#000" stroke-width="1.4" />
<text x="679.35" y="180.30" font-size="8.45" font-weight="bold" text-anchor="end" transform="rotate(-90 679.35 180.30)" >ZNF599</text>
<text x="370.30" y="115.60" font-size="8.5" font-weight="bold" text-anchor="middle" transform="rotate(-90 370.30 115.60)" >Correlation with POMC expression</text>
<text transform="translate(369.98 17.10) scale(0.93 1)" x="0" y="0" font-size="21.3" font-weight="bold" stroke="#000" stroke-width="0.3">D</text>
<text x="432.99" y="157.22" font-size="12" font-weight="normal" text-anchor="start" transform="rotate(-90 432.99 157.22)" stroke="#000" stroke-width="0.25">*</text>
<text x="432.99" y="162.62" font-size="12" font-weight="normal" text-anchor="start" transform="rotate(-90 432.99 162.62)" stroke="#000" stroke-width="0.25">*</text>
<text x="460.02" y="152.68" font-size="12" font-weight="normal" text-anchor="start" stroke="#000" stroke-width="0.25">*</text>
<text x="477.86" y="152.68" font-size="12" font-weight="normal" text-anchor="start" stroke="#000" stroke-width="0.25">*</text>
<text x="486.78" y="149.08" font-size="12" font-weight="normal" text-anchor="start" stroke="#000" stroke-width="0.25">*</text>
<text x="504.35" y="156.52" font-size="12" font-weight="normal" text-anchor="start" transform="rotate(-90 504.35 156.52)" stroke="#000" stroke-width="0.25">*</text>
<text x="504.35" y="161.92" font-size="12" font-weight="normal" text-anchor="start" transform="rotate(-90 504.35 161.92)" stroke="#000" stroke-width="0.25">*</text>
<text x="504.62" y="152.68" font-size="12" font-weight="normal" text-anchor="start" stroke="#000" stroke-width="0.25">*</text>
<text x="540.03" y="156.52" font-size="12" font-weight="normal" text-anchor="start" transform="rotate(-90 540.03 156.52)" stroke="#000" stroke-width="0.25">*</text>
<text x="540.03" y="161.92" font-size="12" font-weight="normal" text-anchor="start" transform="rotate(-90 540.03 161.92)" stroke="#000" stroke-width="0.25">*</text>
<text x="540.30" y="148.98" font-size="12" font-weight="normal" text-anchor="start" stroke="#000" stroke-width="0.25">*</text>
<text x="549.22" y="147.48" font-size="12" font-weight="normal" text-anchor="start" stroke="#000" stroke-width="0.25">*</text>
<text x="593.55" y="154.22" font-size="12" font-weight="normal" text-anchor="start" transform="rotate(-90 593.55 154.22)" stroke="#000" stroke-width="0.25">*</text>
<text x="593.55" y="159.62" font-size="12" font-weight="normal" text-anchor="start" transform="rotate(-90 593.55 159.62)" stroke="#000" stroke-width="0.25">*</text>
<text x="629.23" y="162.02" font-size="12" font-weight="normal" text-anchor="start" transform="rotate(-90 629.23 162.02)" stroke="#000" stroke-width="0.25">*</text>
<text x="629.23" y="167.42" font-size="12" font-weight="normal" text-anchor="start" transform="rotate(-90 629.23 167.42)" stroke="#000" stroke-width="0.25">*</text>
<text x="629.23" y="172.82" font-size="12" font-weight="normal" text-anchor="start" transform="rotate(-90 629.23 172.82)" stroke="#000" stroke-width="0.25">*</text>
<text x="629.50" y="148.58" font-size="12" font-weight="normal" text-anchor="start" stroke="#000" stroke-width="0.25">*</text>
<text x="647.34" y="156.58" font-size="12" font-weight="normal" text-anchor="start" stroke="#000" stroke-width="0.25">*</text>
<text x="665.18" y="147.48" font-size="12" font-weight="normal" text-anchor="start" stroke="#000" stroke-width="0.25">*</text>
<line x1="397.00" y1="348.50" x2="669.30" y2="348.50" stroke="#000" stroke-width="1.1" stroke-dasharray="1.1 1.17" stroke-opacity="1"/>
<rect x="396.45" y="312.90" width="6.90" height="41.48" fill="#000"/>
<rect x="404.95" y="312.90" width="6.90" height="4.03" fill="#000"/>
<rect x="413.45" y="312.90" width="6.90" height="54.66" fill="#000"/>
<rect x="421.95" y="312.90" width="6.90" height="38.80" fill="#000"/>
<rect x="430.45" y="312.90" width="6.90" height="34.76" fill="#000"/>
<rect x="438.95" y="312.90" width="6.90" height="58.06" fill="#000"/>
<rect x="447.45" y="312.90" width="6.90" height="45.52" fill="#000"/>
<rect x="455.95" y="312.90" width="6.90" height="40.50" fill="#000"/>
<rect x="464.45" y="299.64" width="6.90" height="13.26" fill="#000"/>
<rect x="472.95" y="312.90" width="6.90" height="66.84" fill="#000"/>
<rect x="481.45" y="312.90" width="6.90" height="44.17" fill="#000"/>
<rect x="489.95" y="312.90" width="6.90" height="44.80" fill="#000"/>
<rect x="498.45" y="312.90" width="6.90" height="45.88" fill="#000"/>
<rect x="506.95" y="312.90" width="6.90" height="32.35" fill="#000"/>
<rect x="515.45" y="307.79" width="6.90" height="5.11" fill="#000"/>
<rect x="523.95" y="312.90" width="6.90" height="23.65" fill="#000"/>
<rect x="532.45" y="312.90" width="6.90" height="43.55" fill="#000"/>
<rect x="540.95" y="312.90" width="6.90" height="50.62" fill="#000"/>
<rect x="549.45" y="312.90" width="6.90" height="43.90" fill="#000"/>
<rect x="557.95" y="303.40" width="6.90" height="9.50" fill="#000"/>
<rect x="566.45" y="312.90" width="6.90" height="35.48" fill="#000"/>
<rect x="574.95" y="312.90" width="6.90" height="40.86" fill="#000"/>
<rect x="583.45" y="304.12" width="6.90" height="8.78" fill="#000"/>
<rect x="591.95" y="312.90" width="6.90" height="48.65" fill="#000"/>
<rect x="600.45" y="312.90" width="6.90" height="58.78" fill="#000"/>
<rect x="608.95" y="312.90" width="6.90" height="66.57" fill="#000"/>
<rect x="617.45" y="312.90" width="6.90" height="43.55" fill="#000"/>
<rect x="625.95" y="312.90" width="6.90" height="25.63" fill="#000"/>
<rect x="634.45" y="312.90" width="6.90" height="25.63" fill="#000"/>
<rect x="642.95" y="312.90" width="6.90" height="18.55" fill="#000"/>
<rect x="651.45" y="312.90" width="6.90" height="35.48" fill="#000"/>
<rect x="659.95" y="295.70" width="6.90" height="17.20" fill="#000"/>
<line x1="396.00" y1="276.40" x2="396.00" y2="384.73" stroke="#000" stroke-width="1.45" />
<line x1="395.27" y1="312.90" x2="670.10" y2="312.90" stroke="#000" stroke-width="1.45" />
<line x1="395.27" y1="384.00" x2="670.10" y2="384.00" stroke="#000" stroke-width="1.45" />
<line x1="391.80" y1="277.06" x2="396.00" y2="277.06" stroke="#000" stroke-width="1.25" />
<text x="390.80" y="279.89" font-size="7.9" font-weight="bold" text-anchor="end" >0.4</text>
<line x1="391.80" y1="294.98" x2="396.00" y2="294.98" stroke="#000" stroke-width="1.25" />
<text x="390.80" y="297.81" font-size="7.9" font-weight="bold" text-anchor="end" >0.2</text>
<line x1="391.80" y1="312.90" x2="396.00" y2="312.90" stroke="#000" stroke-width="1.25" />
<text x="390.80" y="315.73" font-size="7.9" font-weight="bold" text-anchor="end" >0.0</text>
<line x1="391.80" y1="330.82" x2="396.00" y2="330.82" stroke="#000" stroke-width="1.25" />
<text x="390.80" y="333.65" font-size="7.9" font-weight="bold" text-anchor="end" >-0.2</text>
<line x1="391.80" y1="348.74" x2="396.00" y2="348.74" stroke="#000" stroke-width="1.25" />
<text x="390.80" y="351.57" font-size="7.9" font-weight="bold" text-anchor="end" >-0.4</text>
<line x1="391.80" y1="366.66" x2="396.00" y2="366.66" stroke="#000" stroke-width="1.25" />
<text x="390.80" y="369.49" font-size="7.9" font-weight="bold" text-anchor="end" >-0.6</text>
<line x1="391.80" y1="384.00" x2="396.00" y2="384.00" stroke="#000" stroke-width="1.25" />
<text x="390.80" y="386.83" font-size="7.9" font-weight="bold" text-anchor="end" >-0.8</text>
<line x1="399.90" y1="384.00" x2="399.90" y2="388.00" stroke="#000" stroke-width="1.3499999999999999" />
<text x="402.85" y="388.00" font-size="8.25" font-weight="bold" text-anchor="end" transform="rotate(-90 402.85 388.00)" >ADH1B</text>
<line x1="408.40" y1="384.00" x2="408.40" y2="388.00" stroke="#000" stroke-width="1.3499999999999999" />
<text x="411.35" y="388.00" font-size="8.25" font-weight="bold" text-anchor="end" transform="rotate(-90 411.35 388.00)" >ASPN</text>
<line x1="416.90" y1="384.00" x2="416.90" y2="388.00" stroke="#000" stroke-width="1.3499999999999999" />
<text x="419.85" y="388.00" font-size="8.25" font-weight="bold" text-anchor="end" transform="rotate(-90 419.85 388.00)" >ATP1A2</text>
<line x1="425.40" y1="384.00" x2="425.40" y2="388.00" stroke="#000" stroke-width="1.3499999999999999" />
<text x="428.35" y="388.00" font-size="8.25" font-weight="bold" text-anchor="end" transform="rotate(-90 428.35 388.00)" >C1QTNF7</text>
<line x1="433.90" y1="384.00" x2="433.90" y2="388.00" stroke="#000" stroke-width="1.3499999999999999" />
<text x="436.85" y="388.00" font-size="8.25" font-weight="bold" text-anchor="end" transform="rotate(-90 436.85 388.00)" >C21orf34</text>
<line x1="442.40" y1="384.00" x2="442.40" y2="388.00" stroke="#000" stroke-width="1.3499999999999999" />
<text x="445.35" y="388.00" font-size="8.25" font-weight="bold" text-anchor="end" transform="rotate(-90 445.35 388.00)" >CNTN4</text>
<line x1="450.90" y1="384.00" x2="450.90" y2="388.00" stroke="#000" stroke-width="1.3499999999999999" />
<text x="453.85" y="388.00" font-size="8.25" font-weight="bold" text-anchor="end" transform="rotate(-90 453.85 388.00)" >COL14A1</text>
<line x1="459.40" y1="384.00" x2="459.40" y2="388.00" stroke="#000" stroke-width="1.3499999999999999" />
<text x="462.35" y="388.00" font-size="8.25" font-weight="bold" text-anchor="end" transform="rotate(-90 462.35 388.00)" >CRISPLD1</text>
<line x1="467.90" y1="384.00" x2="467.90" y2="388.00" stroke="#000" stroke-width="1.3499999999999999" />
<text x="470.85" y="388.00" font-size="8.25" font-weight="bold" text-anchor="end" transform="rotate(-90 470.85 388.00)" >DKK2</text>
<line x1="476.40" y1="384.00" x2="476.40" y2="388.00" stroke="#000" stroke-width="1.3499999999999999" />
<text x="479.35" y="388.00" font-size="8.25" font-weight="bold" text-anchor="end" transform="rotate(-90 479.35 388.00)" >ECM2</text>
<line x1="484.90" y1="384.00" x2="484.90" y2="388.00" stroke="#000" stroke-width="1.3499999999999999" />
<text x="487.85" y="388.00" font-size="8.25" font-weight="bold" text-anchor="end" transform="rotate(-90 487.85 388.00)" >FAM19A2</text>
<line x1="493.40" y1="384.00" x2="493.40" y2="388.00" stroke="#000" stroke-width="1.3499999999999999" />
<text x="496.35" y="388.00" font-size="8.25" font-weight="bold" text-anchor="end" transform="rotate(-90 496.35 388.00)" >FAT3</text>
<line x1="501.90" y1="384.00" x2="501.90" y2="388.00" stroke="#000" stroke-width="1.3499999999999999" />
<text x="504.85" y="388.00" font-size="8.25" font-weight="bold" text-anchor="end" transform="rotate(-90 504.85 388.00)" >FHL1</text>
<line x1="510.40" y1="384.00" x2="510.40" y2="388.00" stroke="#000" stroke-width="1.3499999999999999" />
<text x="513.35" y="388.00" font-size="8.25" font-weight="bold" text-anchor="end" transform="rotate(-90 513.35 388.00)" >GPLD1</text>
<line x1="518.90" y1="384.00" x2="518.90" y2="388.00" stroke="#000" stroke-width="1.3499999999999999" />
<text x="521.85" y="388.00" font-size="8.25" font-weight="bold" text-anchor="end" transform="rotate(-90 521.85 388.00)" >INSC</text>
<line x1="527.40" y1="384.00" x2="527.40" y2="388.00" stroke="#000" stroke-width="1.3499999999999999" />
<text x="530.35" y="388.00" font-size="8.25" font-weight="bold" text-anchor="end" transform="rotate(-90 530.35 388.00)" >ITGA8</text>
<line x1="535.90" y1="384.00" x2="535.90" y2="388.00" stroke="#000" stroke-width="1.3499999999999999" />
<text x="538.85" y="388.00" font-size="8.25" font-weight="bold" text-anchor="end" transform="rotate(-90 538.85 388.00)" >KCNA5</text>
<line x1="544.40" y1="384.00" x2="544.40" y2="388.00" stroke="#000" stroke-width="1.3499999999999999" />
<text x="547.35" y="388.00" font-size="8.25" font-weight="bold" text-anchor="end" transform="rotate(-90 547.35 388.00)" >KCNAB1</text>
<line x1="552.90" y1="384.00" x2="552.90" y2="388.00" stroke="#000" stroke-width="1.3499999999999999" />
<text x="555.85" y="388.00" font-size="8.25" font-weight="bold" text-anchor="end" transform="rotate(-90 555.85 388.00)" >MFAP4</text>
<line x1="561.40" y1="384.00" x2="561.40" y2="388.00" stroke="#000" stroke-width="1.3499999999999999" />
<text x="564.35" y="388.00" font-size="8.25" font-weight="bold" text-anchor="end" transform="rotate(-90 564.35 388.00)" >MYEF2</text>
<line x1="569.90" y1="384.00" x2="569.90" y2="388.00" stroke="#000" stroke-width="1.3499999999999999" />
<text x="572.85" y="388.00" font-size="8.25" font-weight="bold" text-anchor="end" transform="rotate(-90 572.85 388.00)" >MYOCD</text>
<line x1="578.40" y1="384.00" x2="578.40" y2="388.00" stroke="#000" stroke-width="1.3499999999999999" />
<text x="581.35" y="388.00" font-size="8.25" font-weight="bold" text-anchor="end" transform="rotate(-90 581.35 388.00)" >NOV</text>
<line x1="586.90" y1="384.00" x2="586.90" y2="388.00" stroke="#000" stroke-width="1.3499999999999999" />
<text x="589.85" y="388.00" font-size="8.25" font-weight="bold" text-anchor="end" transform="rotate(-90 589.85 388.00)" >NRK</text>
<line x1="595.40" y1="384.00" x2="595.40" y2="388.00" stroke="#000" stroke-width="1.3499999999999999" />
<text x="598.35" y="388.00" font-size="8.25" font-weight="bold" text-anchor="end" transform="rotate(-90 598.35 388.00)" >NTN1</text>
<line x1="603.90" y1="384.00" x2="603.90" y2="388.00" stroke="#000" stroke-width="1.3499999999999999" />
<text x="606.85" y="388.00" font-size="8.25" font-weight="bold" text-anchor="end" transform="rotate(-90 606.85 388.00)" >OGN</text>
<line x1="612.40" y1="384.00" x2="612.40" y2="388.00" stroke="#000" stroke-width="1.3499999999999999" />
<text x="615.35" y="388.00" font-size="8.25" font-weight="bold" text-anchor="end" transform="rotate(-90 615.35 388.00)" >PCDH7</text>
<line x1="620.90" y1="384.00" x2="620.90" y2="388.00" stroke="#000" stroke-width="1.3499999999999999" />
<text x="623.85" y="388.00" font-size="8.25" font-weight="bold" text-anchor="end" transform="rotate(-90 623.85 388.00)" >PPL</text>
<line x1="629.40" y1="384.00" x2="629.40" y2="388.00" stroke="#000" stroke-width="1.3499999999999999" />
<text x="632.35" y="388.20" font-size="8.25" font-weight="bold" text-anchor="end" transform="rotate(-90 632.35 388.20)" letter-spacing="-0.2" >PPP1R12B</text>
<line x1="637.90" y1="384.00" x2="637.90" y2="388.00" stroke="#000" stroke-width="1.3499999999999999" />
<text x="640.85" y="388.00" font-size="8.25" font-weight="bold" text-anchor="end" transform="rotate(-90 640.85 388.00)" >PRRT2</text>
<line x1="646.40" y1="384.00" x2="646.40" y2="388.00" stroke="#000" stroke-width="1.3499999999999999" />
<text x="649.35" y="388.00" font-size="8.25" font-weight="bold" text-anchor="end" transform="rotate(-90 649.35 388.00)" >SLC14A1</text>
<line x1="654.90" y1="384.00" x2="654.90" y2="388.00" stroke="#000" stroke-width="1.3499999999999999" />
<text x="657.85" y="388.00" font-size="8.25" font-weight="bold" text-anchor="end" transform="rotate(-90 657.85 388.00)" >SLC25A4</text>
<line x1="663.40" y1="384.00" x2="663.40" y2="388.00" stroke="#000" stroke-width="1.3499999999999999" />
<text x="666.35" y="388.00" font-size="8.25" font-weight="bold" text-anchor="end" transform="rotate(-90 666.35 388.00)" >ZNF599</text>
<text x="371.30" y="330.60" font-size="8.6" font-weight="bold" text-anchor="middle" transform="rotate(-90 371.30 330.60)" >Correlation with POMC expression</text>
<text transform="translate(370.19 238.27) scale(0.894 1)" x="0" y="0" font-size="21.3" font-weight="bold" stroke="#000" stroke-width="0.3">E</text>
<text x="415.18" y="380.78" font-size="12" font-weight="normal" text-anchor="start" stroke="#000" stroke-width="0.25">*</text>
<text x="449.63" y="300.72" font-size="12" font-weight="normal" text-anchor="start" transform="rotate(-90 449.63 300.72)" stroke="#000" stroke-width="0.25">*</text>
<text x="449.63" y="306.12" font-size="12" font-weight="normal" text-anchor="start" transform="rotate(-90 449.63 306.12)" stroke="#000" stroke-width="0.25">*</text>
<text x="482.83" y="300.72" font-size="12" font-weight="normal" text-anchor="start" transform="rotate(-90 482.83 300.72)" stroke="#000" stroke-width="0.25">*</text>
<text x="482.83" y="306.12" font-size="12" font-weight="normal" text-anchor="start" transform="rotate(-90 482.83 306.12)" stroke="#000" stroke-width="0.25">*</text>
<text x="542.18" y="375.78" font-size="12" font-weight="normal" text-anchor="start" stroke="#000" stroke-width="0.25">*</text>
<text x="593.18" y="374.28" font-size="12" font-weight="normal" text-anchor="start" stroke="#000" stroke-width="0.25">*</text>
<text x="610.33" y="300.72" font-size="12" font-weight="normal" text-anchor="start" transform="rotate(-90 610.33 300.72)" stroke="#000" stroke-width="0.25">*</text>
<text x="610.33" y="306.12" font-size="12" font-weight="normal" text-anchor="start" transform="rotate(-90 610.33 306.12)" stroke="#000" stroke-width="0.25">*</text>
<text x="619.23" y="300.72" font-size="12" font-weight="normal" text-anchor="start" transform="rotate(-90 619.23 300.72)" stroke="#000" stroke-width="0.25">*</text>
<text x="619.23" y="306.12" font-size="12" font-weight="normal" text-anchor="start" transform="rotate(-90 619.23 306.12)" stroke="#000" stroke-width="0.25">*</text>
<line x1="397.00" y1="557.50" x2="664.50" y2="557.50" stroke="#000" stroke-width="1.1" stroke-dasharray="1.1 1.17" stroke-opacity="1"/>
<rect x="396.65" y="522.50" width="6.50" height="20.90" fill="#000"/>
<rect x="404.99" y="509.36" width="6.50" height="13.14" fill="#000"/>
<rect x="413.33" y="522.50" width="6.50" height="17.55" fill="#000"/>
<rect x="421.67" y="518.09" width="6.50" height="4.41" fill="#000"/>
<rect x="430.01" y="522.50" width="6.50" height="11.11" fill="#000"/>
<rect x="438.35" y="522.50" width="6.50" height="6.70" fill="#000"/>
<rect x="446.69" y="522.50" width="6.50" height="14.82" fill="#000"/>
<rect x="455.03" y="522.50" width="6.50" height="14.11" fill="#000"/>
<rect x="463.37" y="503.63" width="6.50" height="18.87" fill="#000"/>
<rect x="471.71" y="522.50" width="6.50" height="2.65" fill="#000"/>
<rect x="480.05" y="522.50" width="6.50" height="27.96" fill="#000"/>
<rect x="488.39" y="520.12" width="6.50" height="2.38" fill="#000"/>
<rect x="496.73" y="519.15" width="6.50" height="3.35" fill="#000"/>
<rect x="505.07" y="509.36" width="6.50" height="13.14" fill="#000"/>
<rect x="513.41" y="489.16" width="6.50" height="33.34" fill="#000"/>
<rect x="521.75" y="518.44" width="6.50" height="4.06" fill="#000"/>
<rect x="530.09" y="522.50" width="6.50" height="8.11" fill="#000"/>
<rect x="538.43" y="522.50" width="6.50" height="10.76" fill="#000"/>
<rect x="546.77" y="522.50" width="6.50" height="0.97" fill="#000"/>
<rect x="555.11" y="519.15" width="6.50" height="3.35" fill="#000"/>
<rect x="563.45" y="522.50" width="6.50" height="5.73" fill="#000"/>
<rect x="571.79" y="522.50" width="6.50" height="4.41" fill="#000"/>
<rect x="580.13" y="522.50" width="6.50" height="14.46" fill="#000"/>
<rect x="588.47" y="518.09" width="6.50" height="4.41" fill="#000"/>
<rect x="596.81" y="519.50" width="6.50" height="3.00" fill="#000"/>
<rect x="605.15" y="522.50" width="6.50" height="3.00" fill="#000"/>
<rect x="613.49" y="522.50" width="6.50" height="30.96" fill="#000"/>
<rect x="621.83" y="522.50" width="6.50" height="18.52" fill="#000"/>
<rect x="630.17" y="522.50" width="6.50" height="9.08" fill="#000"/>
<rect x="638.51" y="517.12" width="6.50" height="5.38" fill="#000"/>
<rect x="646.85" y="511.03" width="6.50" height="11.47" fill="#000"/>
<rect x="655.19" y="522.50" width="6.50" height="8.47" fill="#000"/>
<line x1="395.90" y1="486.50" x2="395.90" y2="593.50" stroke="#000" stroke-width="1.4" />
<line x1="395.20" y1="522.50" x2="665.30" y2="522.50" stroke="#000" stroke-width="1.4" />
<line x1="395.20" y1="592.80" x2="665.30" y2="592.80" stroke="#000" stroke-width="1.4" />
<line x1="391.70" y1="487.22" x2="395.90" y2="487.22" stroke="#000" stroke-width="1.2" />
<text x="390.70" y="489.94" font-size="7.6" font-weight="bold" text-anchor="end" fill-opacity="0.92">0.4</text>
<line x1="391.70" y1="504.86" x2="395.90" y2="504.86" stroke="#000" stroke-width="1.2" />
<text x="390.70" y="507.58" font-size="7.6" font-weight="bold" text-anchor="end" fill-opacity="0.92">0.2</text>
<line x1="391.70" y1="522.50" x2="395.90" y2="522.50" stroke="#000" stroke-width="1.2" />
<text x="390.70" y="525.22" font-size="7.6" font-weight="bold" text-anchor="end" fill-opacity="0.92">0.0</text>
<line x1="391.70" y1="540.14" x2="395.90" y2="540.14" stroke="#000" stroke-width="1.2" />
<text x="390.70" y="542.86" font-size="7.6" font-weight="bold" text-anchor="end" fill-opacity="0.92">-0.2</text>
<line x1="391.70" y1="557.78" x2="395.90" y2="557.78" stroke="#000" stroke-width="1.2" />
<text x="390.70" y="560.50" font-size="7.6" font-weight="bold" text-anchor="end" fill-opacity="0.92">-0.4</text>
<line x1="391.70" y1="575.42" x2="395.90" y2="575.42" stroke="#000" stroke-width="1.2" />
<text x="390.70" y="578.14" font-size="7.6" font-weight="bold" text-anchor="end" fill-opacity="0.92">-0.6</text>
<line x1="391.70" y1="592.80" x2="395.90" y2="592.80" stroke="#000" stroke-width="1.2" />
<text x="390.70" y="595.52" font-size="7.6" font-weight="bold" text-anchor="end" fill-opacity="0.92">-0.8</text>
<line x1="399.90" y1="592.80" x2="399.90" y2="596.80" stroke="#000" stroke-width="1.2999999999999998" />
<text x="402.80" y="597.00" font-size="8.1" font-weight="bold" text-anchor="end" transform="rotate(-90 402.80 597.00)" stroke="#000" stroke-width="0.15">ADH1B</text>
<line x1="408.24" y1="592.80" x2="408.24" y2="596.80" stroke="#000" stroke-width="1.2999999999999998" />
<text x="411.14" y="597.00" font-size="8.1" font-weight="bold" text-anchor="end" transform="rotate(-90 411.14 597.00)" stroke="#000" stroke-width="0.15">ASPN</text>
<line x1="416.58" y1="592.80" x2="416.58" y2="596.80" stroke="#000" stroke-width="1.2999999999999998" />
<text x="419.48" y="597.00" font-size="8.1" font-weight="bold" text-anchor="end" transform="rotate(-90 419.48 597.00)" stroke="#000" stroke-width="0.15">ATP1A2</text>
<line x1="424.92" y1="592.80" x2="424.92" y2="596.80" stroke="#000" stroke-width="1.2999999999999998" />
<text x="427.82" y="597.00" font-size="8.1" font-weight="bold" text-anchor="end" transform="rotate(-90 427.82 597.00)" stroke="#000" stroke-width="0.15">C1QTNF7</text>
<line x1="433.26" y1="592.80" x2="433.26" y2="596.80" stroke="#000" stroke-width="1.2999999999999998" />
<text x="436.16" y="597.00" font-size="8.1" font-weight="bold" text-anchor="end" transform="rotate(-90 436.16 597.00)" stroke="#000" stroke-width="0.15">C21orf34</text>
<line x1="441.60" y1="592.80" x2="441.60" y2="596.80" stroke="#000" stroke-width="1.2999999999999998" />
<text x="444.50" y="597.00" font-size="8.1" font-weight="bold" text-anchor="end" transform="rotate(-90 444.50 597.00)" stroke="#000" stroke-width="0.15">CNTN4</text>
<line x1="449.94" y1="592.80" x2="449.94" y2="596.80" stroke="#000" stroke-width="1.2999999999999998" />
<text x="452.84" y="597.00" font-size="8.1" font-weight="bold" text-anchor="end" transform="rotate(-90 452.84 597.00)" stroke="#000" stroke-width="0.15">COL14A1</text>
<line x1="458.28" y1="592.80" x2="458.28" y2="596.80" stroke="#000" stroke-width="1.2999999999999998" />
<text x="461.18" y="597.00" font-size="8.1" font-weight="bold" text-anchor="end" transform="rotate(-90 461.18 597.00)" stroke="#000" stroke-width="0.15">CRISPLD1</text>
<line x1="466.62" y1="592.80" x2="466.62" y2="596.80" stroke="#000" stroke-width="1.2999999999999998" />
<text x="469.52" y="597.00" font-size="8.1" font-weight="bold" text-anchor="end" transform="rotate(-90 469.52 597.00)" stroke="#000" stroke-width="0.15">DKK2</text>
<line x1="474.96" y1="592.80" x2="474.96" y2="596.80" stroke="#000" stroke-width="1.2999999999999998" />
<text x="477.86" y="597.00" font-size="8.1" font-weight="bold" text-anchor="end" transform="rotate(-90 477.86 597.00)" stroke="#000" stroke-width="0.15">ECM2</text>
<line x1="483.30" y1="592.80" x2="483.30" y2="596.80" stroke="#000" stroke-width="1.2999999999999998" />
<text x="486.20" y="597.00" font-size="8.1" font-weight="bold" text-anchor="end" transform="rotate(-90 486.20 597.00)" stroke="#000" stroke-width="0.15">FAM19A2</text>
<line x1="491.64" y1="592.80" x2="491.64" y2="596.80" stroke="#000" stroke-width="1.2999999999999998" />
<text x="494.54" y="597.00" font-size="8.1" font-weight="bold" text-anchor="end" transform="rotate(-90 494.54 597.00)" stroke="#000" stroke-width="0.15">FAT3</text>
<line x1="499.98" y1="592.80" x2="499.98" y2="596.80" stroke="#000" stroke-width="1.2999999999999998" />
<text x="502.88" y="597.00" font-size="8.1" font-weight="bold" text-anchor="end" transform="rotate(-90 502.88 597.00)" stroke="#000" stroke-width="0.15">FHL1</text>
<line x1="508.32" y1="592.80" x2="508.32" y2="596.80" stroke="#000" stroke-width="1.2999999999999998" />
<text x="511.22" y="597.00" font-size="8.1" font-weight="bold" text-anchor="end" transform="rotate(-90 511.22 597.00)" stroke="#000" stroke-width="0.15">GPLD1</text>
<line x1="516.66" y1="592.80" x2="516.66" y2="596.80" stroke="#000" stroke-width="1.2999999999999998" />
<text x="519.56" y="597.00" font-size="8.1" font-weight="bold" text-anchor="end" transform="rotate(-90 519.56 597.00)" stroke="#000" stroke-width="0.15">INSC</text>
<line x1="525.00" y1="592.80" x2="525.00" y2="596.80" stroke="#000" stroke-width="1.2999999999999998" />
<text x="527.90" y="597.00" font-size="8.1" font-weight="bold" text-anchor="end" transform="rotate(-90 527.90 597.00)" stroke="#000" stroke-width="0.15">ITGA8</text>
<line x1="533.34" y1="592.80" x2="533.34" y2="596.80" stroke="#000" stroke-width="1.2999999999999998" />
<text x="536.24" y="597.00" font-size="8.1" font-weight="bold" text-anchor="end" transform="rotate(-90 536.24 597.00)" stroke="#000" stroke-width="0.15">KCNA5</text>
<line x1="541.68" y1="592.80" x2="541.68" y2="596.80" stroke="#000" stroke-width="1.2999999999999998" />
<text x="544.58" y="597.00" font-size="8.1" font-weight="bold" text-anchor="end" transform="rotate(-90 544.58 597.00)" stroke="#000" stroke-width="0.15">KCNAB1</text>
<line x1="550.02" y1="592.80" x2="550.02" y2="596.80" stroke="#000" stroke-width="1.2999999999999998" />
<text x="552.92" y="597.00" font-size="8.1" font-weight="bold" text-anchor="end" transform="rotate(-90 552.92 597.00)" stroke="#000" stroke-width="0.15">MFAP4</text>
<line x1="558.36" y1="592.80" x2="558.36" y2="596.80" stroke="#000" stroke-width="1.2999999999999998" />
<text x="561.26" y="597.00" font-size="8.1" font-weight="bold" text-anchor="end" transform="rotate(-90 561.26 597.00)" stroke="#000" stroke-width="0.15">MYEF2</text>
<line x1="566.70" y1="592.80" x2="566.70" y2="596.80" stroke="#000" stroke-width="1.2999999999999998" />
<text x="569.60" y="597.00" font-size="8.1" font-weight="bold" text-anchor="end" transform="rotate(-90 569.60 597.00)" stroke="#000" stroke-width="0.15">MYOCD</text>
<line x1="575.04" y1="592.80" x2="575.04" y2="596.80" stroke="#000" stroke-width="1.2999999999999998" />
<text x="577.94" y="597.00" font-size="8.1" font-weight="bold" text-anchor="end" transform="rotate(-90 577.94 597.00)" stroke="#000" stroke-width="0.15">NOV</text>
<line x1="583.38" y1="592.80" x2="583.38" y2="596.80" stroke="#000" stroke-width="1.2999999999999998" />
<text x="586.28" y="597.00" font-size="8.1" font-weight="bold" text-anchor="end" transform="rotate(-90 586.28 597.00)" stroke="#000" stroke-width="0.15">NRK</text>
<line x1="591.72" y1="592.80" x2="591.72" y2="596.80" stroke="#000" stroke-width="1.2999999999999998" />
<text x="594.62" y="597.00" font-size="8.1" font-weight="bold" text-anchor="end" transform="rotate(-90 594.62 597.00)" stroke="#000" stroke-width="0.15">NTN1</text>
<line x1="600.06" y1="592.80" x2="600.06" y2="596.80" stroke="#000" stroke-width="1.2999999999999998" />
<text x="602.96" y="597.00" font-size="8.1" font-weight="bold" text-anchor="end" transform="rotate(-90 602.96 597.00)" stroke="#000" stroke-width="0.15">OGN</text>
<line x1="608.40" y1="592.80" x2="608.40" y2="596.80" stroke="#000" stroke-width="1.2999999999999998" />
<text x="611.30" y="597.00" font-size="8.1" font-weight="bold" text-anchor="end" transform="rotate(-90 611.30 597.00)" stroke="#000" stroke-width="0.15">PCDH7</text>
<line x1="616.74" y1="592.80" x2="616.74" y2="596.80" stroke="#000" stroke-width="1.2999999999999998" />
<text x="619.64" y="597.00" font-size="8.1" font-weight="bold" text-anchor="end" transform="rotate(-90 619.64 597.00)" stroke="#000" stroke-width="0.15">PPL</text>
<line x1="625.08" y1="592.80" x2="625.08" y2="596.80" stroke="#000" stroke-width="1.2999999999999998" />
<text x="627.98" y="597.20" font-size="8.1" font-weight="bold" text-anchor="end" transform="rotate(-90 627.98 597.20)" letter-spacing="-0.2" stroke="#000" stroke-width="0.15">PPP1R12B</text>
<line x1="633.42" y1="592.80" x2="633.42" y2="596.80" stroke="#000" stroke-width="1.2999999999999998" />
<text x="636.32" y="597.00" font-size="8.1" font-weight="bold" text-anchor="end" transform="rotate(-90 636.32 597.00)" stroke="#000" stroke-width="0.15">PRRT2</text>
<line x1="641.76" y1="592.80" x2="641.76" y2="596.80" stroke="#000" stroke-width="1.2999999999999998" />
<text x="644.66" y="597.00" font-size="8.1" font-weight="bold" text-anchor="end" transform="rotate(-90 644.66 597.00)" stroke="#000" stroke-width="0.15">SLC14A1</text>
<line x1="650.10" y1="592.80" x2="650.10" y2="596.80" stroke="#000" stroke-width="1.2999999999999998" />
<text x="653.00" y="597.00" font-size="8.1" font-weight="bold" text-anchor="end" transform="rotate(-90 653.00 597.00)" stroke="#000" stroke-width="0.15">SLC25A4</text>
<line x1="658.44" y1="592.80" x2="658.44" y2="596.80" stroke="#000" stroke-width="1.2999999999999998" />
<text x="661.34" y="597.00" font-size="8.1" font-weight="bold" text-anchor="end" transform="rotate(-90 661.34 597.00)" stroke="#000" stroke-width="0.15">ZNF599</text>
<text x="368.80" y="539.75" font-size="9.05" font-weight="normal" text-anchor="middle" transform="rotate(-90 368.80 539.75)" stroke="#000" stroke-width="0.25">Correlation with POMC expression</text>
<text transform="translate(370.20 447.00) scale(0.875 1)" x="0" y="0" font-size="21.3" font-weight="bold" stroke="#000" stroke-width="0.3">F</text>
<line x1="40.30" y1="39.95" x2="171.20" y2="39.95" stroke="#2b2b2b" stroke-width="1.25" />
<line x1="177.90" y1="39.95" x2="314.20" y2="39.95" stroke="#2b2b2b" stroke-width="1.25" />
<text x="113.70" y="33.00" font-size="9.35" font-weight="bold" text-anchor="middle" >M1 markers</text>
<text x="248.00" y="33.00" font-size="9.35" font-weight="bold" text-anchor="middle" >M2 markers</text>
<line x1="397.80" y1="41.25" x2="681.20" y2="41.25" stroke="#2b2b2b" stroke-width="1.25" />
<text x="539.80" y="32.40" font-size="9.3" font-weight="bold" text-anchor="middle" >SMC markers</text>
</svg>
</body></html>
